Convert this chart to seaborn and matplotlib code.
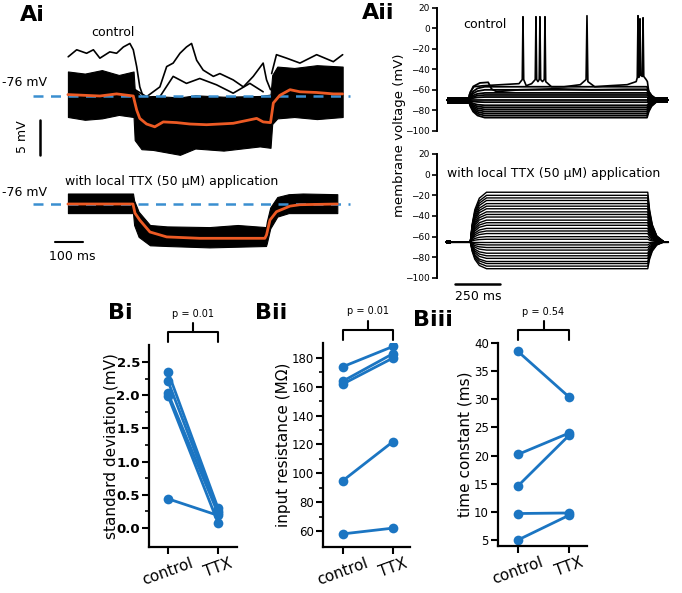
import numpy as np
import pandas as pd
import matplotlib
matplotlib.use('Agg')
import matplotlib.pyplot as plt
import matplotlib.transforms as mtransforms
import seaborn as sns

W, H = 682, 593
BLUE = '#1b75c2'
DASH = '#3a8fd0'
ORANGE = '#ec5a24'

# ---------------- Ai : control sweeps (ms, mV) ----------------
ai_ctrl_mean_t = [0, 113, 172, 231, 243, 254, 278, 307, 337, 384, 431, 490, 584, 667, 690, 716, 726, 749, 785, 820, 879, 938, 971]
ai_ctrl_mean_v = [-75.8, -76.0, -75.7, -76.0, -78.0, -79.2, -80.0, -80.4, -79.7, -79.8, -80.0, -80.1, -79.9, -79.2, -79.7, -79.8, -77.0, -75.9, -75.1, -75.4, -75.5, -75.7, -75.7]
ai_ctrl_band_t = [0, 60, 120, 180, 232, 236, 260, 300, 396, 450, 550, 678, 716, 722, 740, 800, 880, 971]
ai_ctrl_band_hi = [-72.5, -72.8, -72.3, -73.0, -72.5, -75.0, -76.1, -76.0, -76.2, -75.9, -76.1, -76.0, -75.8, -73.0, -71.8, -72.0, -71.6, -71.8]
ai_ctrl_band_lo = [-79.0, -79.4, -79.2, -78.7, -79.0, -82.3, -83.6, -83.7, -84.4, -83.5, -83.8, -83.2, -83.4, -80.0, -79.2, -79.0, -79.3, -79.0]
# wandering sweeps that leave the dense band
ai_out1_t = [1, 31, 66, 90, 113, 148, 172, 196, 219, 231, 243, 254, 266]
ai_out1_v = [-70.4, -69.4, -69.9, -69.4, -70.6, -69.7, -69.9, -69.0, -68.5, -69.4, -71.8, -74.7, -76.1]
ai_out2_t = [237, 278, 325, 349, 372, 396, 419, 437, 455, 478, 514, 537, 584, 620, 655, 690, 702, 716]
ai_out2_v = [-75.1, -76.1, -74.7, -71.8, -71.3, -69.9, -69.0, -68.5, -70.9, -72.3, -73.2, -72.8, -73.7, -74.7, -73.2, -71.3, -73.7, -75.1]
ai_out3_t = [325, 372, 419, 466, 525, 584, 643, 690]
ai_out3_v = [-76.1, -73.2, -74.2, -73.5, -74.4, -75.6, -74.2, -75.4]
ai_out4_t = [720, 737, 773, 820, 879, 938, 971]
ai_out4_v = [-72.8, -70.1, -70.6, -71.3, -70.1, -71.1, -70.1]

# ---------------- Ai : TTX sweeps ----------------
ai_ttx_mean_t = [0, 230, 237, 254, 290, 349, 466, 696, 702, 714, 737, 785, 820, 952]
ai_ttx_mean_v = [-76.0, -76.0, -77.3, -78.3, -80.0, -80.7, -80.9, -80.9, -80.4, -78.3, -77.1, -76.3, -76.1, -76.0]
ai_ttx_band_t = [0, 230, 234, 250, 290, 350, 500, 600, 700, 703, 715, 740, 780, 830, 952]
ai_ttx_band_hi = [-74.5, -74.5, -75.5, -77.1, -79.0, -79.2, -79.3, -79.0, -79.3, -78.5, -76.5, -75.0, -74.6, -74.5, -74.6]
ai_ttx_band_lo = [-77.3, -77.3, -79.0, -80.7, -81.9, -82.0, -82.2, -82.1, -82.0, -81.6, -79.5, -77.8, -77.3, -77.3, -77.3]

# ---------------- Aii : current-step families ----------------
step_dt = [0, 10, 25, 50, 90]            # ms after step edge
step_frac = [0.0, 0.35, 0.65, 0.88, 1.0]  # fraction of the step reached
aii_ctrl_times = (0, 120, 1110, 1225)     # start, on, off, end
aii_ctrl_base = -70
aii_ctrl_levels = [-57, -60, -63, -65, -67, -70, -72, -75, -77, -79, -81, -83, -85, -87]
aii_spk_t = [0, 120, 130, 150, 200, 300, 400, 418, 422, 426, 440, 470, 490, 494, 498, 505, 512, 516, 520, 530,
             540, 544, 548, 580, 650, 740, 772, 777, 782, 820, 900, 1000, 1050, 1056, 1060, 1064, 1067, 1071, 1075,
             1084, 1088, 1092, 1105, 1112, 1120, 1150, 1225]
aii_spk_v = [-70, -70, -62, -57, -56, -55, -54, -50, 11, -50, -56, -54, -50, 11, -50, -52, -50, 11, -50, -52,
             -50, 11, -52, -57, -57, -55, -50, 12, -52, -57, -56, -55, -52, -48, 12, -48, -46, 9, -46,
             -47, 10, -47, -50, -52, -62, -69, -70]
aii_bump_t = [0, 120, 124, 146, 183, 229, 248, 276, 400, 600, 800, 1000, 1110, 1120, 1150, 1225]
aii_bump_v = [-70, -70, -65, -56.7, -53.3, -52.7, -59.3, -61.7, -60, -59, -60, -59.5, -59.5, -64, -69, -70]
aii_ttx_times = (0, 135, 1120, 1230)
aii_ttx_base = -65
aii_ttx_levels = [-17, -20, -22.5, -25, -28, -30.5, -33, -36, -38.5, -41, -44, -46.5, -49, -52, -54.5,
                  -57, -60, -62.5, -65, -68, -70.5, -73, -76, -78.5, -81, -84, -86, -88.5, -91]

# ---------------- B : paired cells ----------------
conditions = ['control', 'TTX']
sd_control = [2.35, 2.21, 2.03, 1.99, 0.44]
sd_ttx = [0.30, 0.25, 0.22, 0.08, 0.19]
rin_control = [174, 164, 162, 95, 58]
rin_ttx = [188, 183, 180, 122, 62]
tau_control = [38.5, 20.2, 14.6, 9.7, 5.0]
tau_ttx = [30.4, 24.0, 23.6, 9.8, 9.4]
p_values = ['p = 0.01', 'p = 0.01', 'p = 0.54']

sns.set_theme(style='ticks')
plt.rcParams['font.family'] = ['DejaVu Sans']
plt.rcParams['axes.linewidth'] = 1.6
for k in ['text.color', 'axes.labelcolor', 'xtick.color', 'ytick.color', 'axes.edgecolor']:
    plt.rcParams[k] = 'black'

fig = plt.figure(figsize=(W / 100, H / 100), dpi=100)


def px_axes(x0, y0, x1, y1):
    return fig.add_axes([x0 / W, 1 - y1 / H, (x1 - x0) / W, (y1 - y0) / H])


def ftext(x, y, s, **kw):
    fig.text(x / W, 1 - y / H, s, **kw)


def step_trace(times, base, level):
    t0, ton, toff, tend = times
    t = [t0] + [ton + d for d in step_dt] + [toff + d for d in step_dt] + [tend]
    v = [base] + [base + f * (level - base) for f in step_frac] + \
        [level - f * (level - base) for f in step_frac] + [base]
    return t, v


# ---------- Ai control ----------
ax = px_axes(30, 35, 352, 160)
ax.set_xlim(-134, 1004)
ax.set_ylim(-85.14, -67.29)
ax.fill_between(ai_ctrl_band_t, ai_ctrl_band_lo, ai_ctrl_band_hi, color='black', lw=0.8)
for tt, vv in [(ai_out1_t, ai_out1_v), (ai_out2_t, ai_out2_v), (ai_out3_t, ai_out3_v), (ai_out4_t, ai_out4_v)]:
    ax.plot(tt, vv, color='black', lw=1.2)
ax.plot([-124, 996], [-76, -76], color=DASH, lw=1.8, dashes=(4, 3))
sns.lineplot(x=ai_ctrl_mean_t, y=ai_ctrl_mean_v, color=ORANGE, lw=2, ax=ax)
ax.plot([-99, -99], [-79.4, -84.4], color='black', lw=1.8)
ax.axis('off')

# ---------- Ai TTX ----------
ax = px_axes(30, 180, 352, 260)
ax.set_xlim(-134, 1004)
ax.set_ylim(-84.0, -72.57)
ax.fill_between(ai_ttx_band_t, ai_ttx_band_lo, ai_ttx_band_hi, color='black', lw=0.8)
ax.plot([-124, 996], [-76, -76], color=DASH, lw=1.8, dashes=(4, 3))
sns.lineplot(x=ai_ttx_mean_t, y=ai_ttx_mean_v, color=ORANGE, lw=2, ax=ax)
ax.plot([-46, 54], [-81.4, -81.4], color='black', lw=1.5)
ax.axis('off')

ftext(20, 15, 'Ai', fontsize=16, fontweight='bold', va='center')
ftext(113, 33, 'control', fontsize=9, ha='center', va='center')
ftext(2, 83, '-76 mV', fontsize=9, va='center')
ftext(22, 137, '5 mV', fontsize=9, rotation=90, ha='center', va='center')
ftext(65, 181, 'with local TTX (50 \u03bcM) application', fontsize=9, va='center')
ftext(2, 192, '-76 mV', fontsize=9, va='center')
ftext(72, 256, '100 ms', fontsize=9, ha='center', va='center')


# ---------- Aii ----------
def style_aii(ax):
    sns.despine(ax=ax, bottom=True)
    ax.set_ylim(-100, 20)
    ax.set_yticks(range(-100, 21, 20))
    ax.set_xticks([])
    ax.tick_params(axis='y', labelsize=6.5, length=3.5, width=1.2, pad=1.5)
    ax.spines['left'].set_linewidth(1.4)


ax = px_axes(437, 7.5, 680, 131)
ax.set_xlim(-55, 1293)
style_aii(ax)
ax.fill_between([0, 120], [-73.5] * 2, [-66.5] * 2, color='black', lw=0)
ax.fill_between([1110, 1225], [-72.7] * 2, [-67.3] * 2, color='black', lw=0)
for lev in aii_ctrl_levels:
    t, v = step_trace(aii_ctrl_times, aii_ctrl_base, lev)
    ax.plot(t, v, color='black', lw=1.3)
ax.plot(aii_bump_t, aii_bump_v, color='black', lw=1.3)
ax.plot(aii_spk_t, aii_spk_v, color='black', lw=1.2)

ax = px_axes(437, 154, 680, 278)
ax.set_xlim(-50, 1299)
style_aii(ax)
ax.fill_between([0, 30], [-67] * 2, [-63] * 2, color='black', lw=0)
for lev in aii_ttx_levels:
    t, v = step_trace(aii_ttx_times, aii_ttx_base, lev)
    ax.plot(t, v, color='black', lw=1.0)
ax.plot([50, 300], [-105.8, -105.8], color='black', lw=1.8, clip_on=False)

ftext(362, 13, 'Aii', fontsize=16, fontweight='bold', va='center')
ftext(485, 25, 'control', fontsize=9, ha='center', va='center')
ftext(447, 173, 'with local TTX (50 \u03bcM) application', fontsize=9, va='center')
ftext(478, 297, '250 ms', fontsize=9, ha='center', va='center')
ftext(400, 135, 'membrane voltage (mV)', fontsize=9.5, rotation=90, ha='center', va='center')


# ---------- B panels ----------
def pair_panel(box, xlim, ctrl, ttx, ylim, yticks, minor, fmt, ylabel, label_x, p, bold):
    ax = px_axes(*box)
    n = len(ctrl)
    df = pd.DataFrame({'cell': list(range(n)) * 2,
                       'cond': [0] * n + [1] * n,
                       'value': list(ctrl) + list(ttx)})
    sns.lineplot(data=df, x='cond', y='value', units='cell', estimator=None,
                 color=BLUE, lw=2, marker='o', markersize=7, markeredgecolor=BLUE,
                 markeredgewidth=0, ax=ax, legend=False)
    sns.despine(ax=ax)
    ax.set_xlim(*xlim)
    ax.set_ylim(*ylim)
    ax.set_yticks(yticks)
    ax.set_yticks(minor, minor=True)
    ax.set_yticklabels([fmt.format(v) for v in yticks],
                       fontweight='bold' if bold else 'normal')
    ax.set_xticks([0, 1])
    ax.set_xticklabels(conditions, rotation=20, ha='center', fontsize=11)
    off = mtransforms.ScaledTranslation(-0.11, 0, fig.dpi_scale_trans)
    for lab in ax.get_xticklabels():
        lab.set_transform(lab.get_transform() + off)
    ax.tick_params(axis='both', which='major', length=5, width=1.5,
                   labelsize=9.5 if bold else 8.5, pad=1.5)
    ax.tick_params(axis='x', labelsize=11, pad=1)
    ax.tick_params(axis='y', which='minor', length=3, width=1.2)
    ax.set_xlabel('')
    ax.set_ylabel(ylabel, fontsize=11)
    ax.yaxis.set_label_coords(label_x, 0.5)
    tr = mtransforms.blended_transform_factory(ax.transData, ax.transAxes)
    ax.plot([0, 0, 1, 1], [1.015, 1.064, 1.064, 1.015], color='black', lw=1.5, transform=tr, clip_on=False)
    ax.plot([0.5, 0.5], [1.064, 1.109], color='black', lw=1.5, transform=tr, clip_on=False)
    ax.text(0.5, 1.13, p, fontsize=7, ha='center', va='bottom', transform=tr)
    return ax


pair_panel((149, 345, 237, 547), (-0.38, 1.38), sd_control, sd_ttx, (-0.286, 2.756),
           [0, 0.5, 1.0, 1.5, 2.0, 2.5], [0.25, 0.75, 1.25, 1.75, 2.25],
           '{:.1f}', 'standard deviation (mV)', -0.35, p_values[0], True)
pair_panel((323, 343, 410, 547), (-0.4, 1.34), rin_control, rin_ttx, (48.9, 190.4),
           [60, 80, 100, 120, 140, 160, 180], [70, 90, 110, 130, 150, 170],
           '{:d}', 'input resistance (M\u03a9)', -0.37, p_values[1], False)
pair_panel((498, 343, 587, 546), (-0.39, 1.35), tau_control, tau_ttx, (3.93, 40),
           [5, 10, 15, 20, 25, 30, 35, 40], [],
           '{:d}', 'time constant (ms)', -0.29, p_values[2], False)

ftext(108, 313, 'Bi', fontsize=16, fontweight='bold', va='center')
ftext(255, 313, 'Bii', fontsize=16, fontweight='bold', va='center')
ftext(413, 320, 'Biii', fontsize=16, fontweight='bold', va='center')

fig.savefig('out.png', dpi=100, facecolor='white')
